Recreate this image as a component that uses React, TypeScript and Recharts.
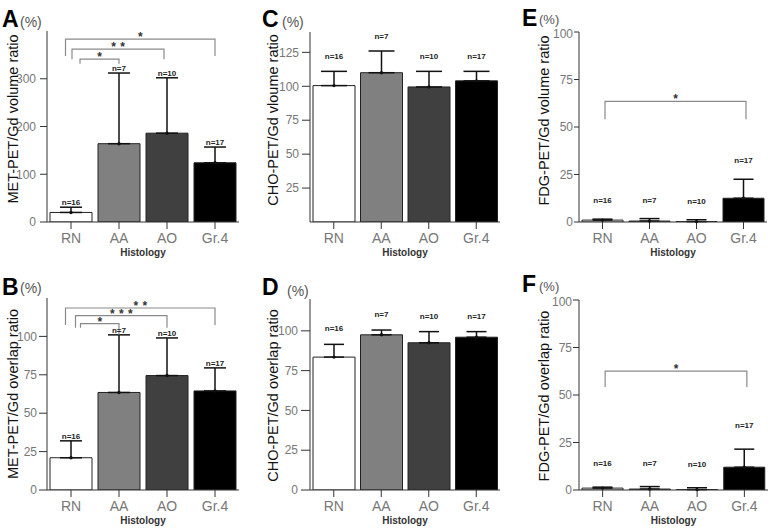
import React from 'react';
import { BarChart, Bar, XAxis, YAxis, ErrorBar, Cell, LabelList, ReferenceLine } from 'recharts';

const groups = ['RN', 'AA', 'AO', 'Gr.4'];
const groupN = [16, 7, 10, 17];

// A: MET-PET / Gd volume
const metVolumeMean = [20, 164, 186, 124];
const metVolumeErr = [11, 148, 116, 33];
const metVolumeTicks = [0, 100, 200, 300];
// B: MET-PET / Gd overlap
const metOverlapMean = [21, 63.5, 74.5, 64.5];
const metOverlapErr = [11, 37.5, 24.5, 15];
const metOverlapTicks = [0, 25, 50, 75, 100];
// C: CHO-PET / Gd volume
const choVolumeMean = [100.5, 110, 99.5, 104];
const choVolumeErr = [10.5, 16, 11.5, 7];
const choVolumeTicks = [25, 50, 75, 100, 125];
// D: CHO-PET / Gd overlap
const choOverlapMean = [83.5, 97.5, 92.5, 96];
const choOverlapErr = [8, 3, 7, 3.5];
const choOverlapTicks = [0, 25, 50, 75, 100];
// E: FDG-PET / Gd volume
const fdgVolumeMean = [1, 0.5, 0.2, 12.5];
const fdgVolumeErr = [0.5, 1.3, 1, 10];
const fdgVolumeTicks = [0, 25, 50, 75, 100];
// F: FDG-PET / Gd overlap
const fdgOverlapMean = [1, 0.5, 0.2, 12];
const fdgOverlapErr = [0.5, 1.3, 1, 9.5];
const fdgOverlapTicks = [0, 25, 50, 75, 100];

const metVolumeBrackets = [
  { from: 'RN', to: 'AA', y: 341, stars: 1 },
  { from: 'RN', to: 'AO', y: 362, stars: 2 },
  { from: 'RN', to: 'Gr.4', y: 383, stars: 1 },
];
const metOverlapBrackets = [
  { from: 'RN', to: 'AA', y: 108.3, stars: 1 },
  { from: 'RN', to: 'AO', y: 113.5, stars: 3 },
  { from: 'RN', to: 'Gr.4', y: 118.5, stars: 2 },
];
const fdgVolumeBrackets = [{ from: 'RN', to: 'Gr.4', y: 63.5, stars: 1 }];
const fdgOverlapBrackets = [{ from: 'RN', to: 'Gr.4', y: 62.6, stars: 1 }];

const SANS = '"Liberation Sans", Arial, Helvetica, sans-serif';
const NARROW = '"Liberation Sans Narrow", "Arial Narrow", "Liberation Sans", Arial, sans-serif';
const GROUP_COLORS = ['#ffffff', '#808080', '#404040', '#000000'];
const Y_W = 44;
const PAD = 6;
const X_H = 30;

type Bracket = { from: string; to: string; y: number; stars: number };
type BracketStyle = { dxL: number; dxR: number; legL: number; legR: number };

interface PanelCfg {
  letter: string;
  yLabel: string;
  mean: number[];
  err: number[];
  max: number;
  ticks: number[];
  brackets: Bracket[];
  bracketStyle: BracketStyle[];
  plot: { x: number; y: number; w: number; h: number };
  tickSize: number;
  tickMargin: number;
  tickFont: string;
  cap: number;
  nOffset: number;
  letterPos: [number, number];
  pctPos: [number, number];
  yLabelPos: [number, number];
}

const panels: PanelCfg[] = [
  {
    letter: 'A', yLabel: 'MET-PET/Gd volume ratio',
    mean: metVolumeMean, err: metVolumeErr, max: 400, ticks: metVolumeTicks,
    brackets: metVolumeBrackets,
    bracketStyle: [
      { dxL: 9, dxR: 0, legL: 4.5, legR: 4.5 },
      { dxL: 1, dxR: -3, legL: 10, legR: 10 },
      { dxL: -5.5, dxR: 0, legL: 17, legR: 17 },
    ],
    plot: { x: 47, y: 31, w: 192, h: 191 },
    tickSize: 7, tickMargin: 4, tickFont: NARROW, cap: 11, nOffset: 2,
    letterPos: [2, 27], pctPos: [20, 27], yLabelPos: [17.5, 119],
  },
  {
    letter: 'B', yLabel: 'MET-PET/Gd overlap ratio',
    mean: metOverlapMean, err: metOverlapErr, max: 125, ticks: metOverlapTicks,
    brackets: metOverlapBrackets,
    bracketStyle: [
      { dxL: 9.5, dxR: 0, legL: 4, legR: 11 },
      { dxL: 4.5, dxR: 0, legL: 12, legR: 12 },
      { dxL: -5.5, dxR: 0, legL: 17, legR: 17 },
    ],
    plot: { x: 47, y: 298, w: 192, h: 192 },
    tickSize: 8, tickMargin: 2, tickFont: NARROW, cap: 11, nOffset: 1.5,
    letterPos: [2, 295], pctPos: [20, 293], yLabelPos: [18, 394],
  },
  {
    letter: 'C', yLabel: 'CHO-PET/Gd vloume ratio',
    mean: choVolumeMean, err: choVolumeErr, max: 140, ticks: choVolumeTicks,
    brackets: [], bracketStyle: [],
    plot: { x: 310, y: 32, w: 190, h: 190 },
    tickSize: 8, tickMargin: 3, tickFont: NARROW, cap: 13, nOffset: 12,
    letterPos: [262, 27], pctPos: [282, 27], yLabelPos: [278, 120],
  },
  {
    letter: 'D', yLabel: 'CHO-PET/Gd overlap ratio',
    mean: choOverlapMean, err: choOverlapErr, max: 120, ticks: choOverlapTicks,
    brackets: [], bracketStyle: [],
    plot: { x: 310, y: 299, w: 190, h: 191 },
    tickSize: 9, tickMargin: 3, tickFont: NARROW, cap: 10, nOffset: 13,
    letterPos: [262, 295], pctPos: [287, 296], yLabelPos: [278, 395.5],
  },
  {
    letter: 'E', yLabel: 'FDG-PET/Gd volume ratio',
    mean: fdgVolumeMean, err: fdgVolumeErr, max: 100, ticks: fdgVolumeTicks,
    brackets: fdgVolumeBrackets,
    bracketStyle: [{ dxL: 2.5, dxR: 2.5, legL: 18, legR: 18 }],
    plot: { x: 579, y: 32, w: 188, h: 190 },
    tickSize: 5, tickMargin: 1, tickFont: SANS, cap: 10, nOffset: 16,
    letterPos: [522, 26], pctPos: [539, 24], yLabelPos: [549, 120.5],
  },
  {
    letter: 'F', yLabel: 'FDG-PET/Gd overlap ratio',
    mean: fdgOverlapMean, err: fdgOverlapErr, max: 100, ticks: fdgOverlapTicks,
    brackets: fdgOverlapBrackets,
    bracketStyle: [{ dxL: 2.5, dxR: 2.5, legL: 16, legR: 16 }],
    plot: { x: 579, y: 300, w: 189, h: 190 },
    tickSize: 6, tickMargin: 1, tickFont: SANS, cap: 10, nOffset: 21,
    letterPos: [522, 292], pctPos: [539, 291], yLabelPos: [549, 396],
  },
];

const MeanDot = (p: any) => {
  const vb = p.viewBox || p;
  const x = (vb.x ?? 0) + (vb.width ?? 0) / 2;
  const y = Math.min(vb.y, vb.y + (vb.height ?? 0));
  return <circle cx={x} cy={y} r={1.7} fill="#111" />;
};

const nLabel = (offset: number) => (p: any) => {
  const vb = p.viewBox || p;
  const x = (vb.x ?? 0) + (vb.width ?? 0) / 2;
  const y = Math.min(vb.y, vb.y + (vb.height ?? 0)) - offset;
  return (
    <text x={x} y={y} textAnchor="middle" fontSize={8} fontWeight="bold" fill="#222" fontFamily={SANS}>
      {p.value}
    </text>
  );
};

const bracketShape = (stars: number, st: BracketStyle) => (p: any) => {
  const xl = p.x1 + st.dxL;
  const xr = p.x2 + st.dxR;
  const y = p.y1;
  const cx = (xl + xr) / 2;
  const starXs = Array.from({ length: stars }, (_, i) => cx + (i - (stars - 1) / 2) * 9);
  return (
    <g>
      <path d={`M${xl},${y + st.legL}V${y}H${xr}V${y + st.legR}`} fill="none" stroke="#8a8a8a" strokeWidth={1.2} />
      {starXs.map((sx, i) => (
        <text key={i} x={sx} y={y + 2} textAnchor="middle" fontSize={12} fontWeight="bold" fill="#333" fontFamily={SANS}>
          *
        </text>
      ))}
    </g>
  );
};

function Panel({ cfg }: { cfg: PanelCfg }) {
  const data = groups.map((g, i) => ({
    name: g,
    mean: cfg.mean[i],
    errUp: cfg.err[i],
    errRange: [0, cfg.err[i]],
    n: `n=${groupN[i]}`,
  }));
  const width = Y_W + cfg.plot.w + PAD;
  const height = PAD + cfg.plot.h + X_H;
  return (
    <div style={{ position: 'absolute', left: cfg.plot.x - Y_W, top: cfg.plot.y - PAD }}>
      <BarChart
        width={width}
        height={height}
        data={data}
        margin={{ top: PAD, right: PAD, left: 0, bottom: 0 }}
        barCategoryGap={3}
      >
        <XAxis
          dataKey="name"
          height={X_H}
          interval={0}
          tickSize={7}
          tickMargin={4}
          axisLine={{ stroke: '#333' }}
          tickLine={{ stroke: '#333' }}
          tick={{ fill: '#777', fontSize: 14, fontFamily: NARROW }}
        />
        <XAxis
          xAxisId="top"
          orientation="top"
          dataKey="name"
          height={0}
          tick={false}
          tickLine={false}
          axisLine={{ stroke: '#999' }}
        />
        <YAxis
          type="number"
          domain={[0, cfg.max]}
          ticks={cfg.ticks}
          allowDataOverflow
          width={Y_W}
          tickSize={cfg.tickSize}
          tickMargin={cfg.tickMargin}
          axisLine={{ stroke: '#333' }}
          tickLine={{ stroke: '#333' }}
          tick={{ fill: '#777', fontSize: 12, fontFamily: cfg.tickFont }}
        />
        <YAxis
          yAxisId="right"
          orientation="right"
          type="number"
          domain={[0, cfg.max]}
          width={0}
          tick={false}
          tickLine={false}
          axisLine={{ stroke: '#999' }}
        />
        <Bar dataKey="mean" stackId="s" stroke="#222" strokeWidth={1} isAnimationActive={false}>
          {data.map((d, i) => (
            <Cell key={d.name} fill={GROUP_COLORS[i]} />
          ))}
          <ErrorBar dataKey="errRange" direction="y" width={cfg.cap} stroke="#111" strokeWidth={1.5} isAnimationActive={false} />
          <LabelList dataKey="mean" content={MeanDot} />
        </Bar>
        <Bar dataKey="errUp" stackId="s" fill="none" stroke="none" isAnimationActive={false}>
          <LabelList dataKey="n" content={nLabel(cfg.nOffset)} />
        </Bar>
        {cfg.brackets.map((b, i) => (
          <ReferenceLine
            key={i}
            segment={[{ x: b.from, y: b.y }, { x: b.to, y: b.y }]}
            ifOverflow="visible"
            shape={bracketShape(b.stars, cfg.bracketStyle[i])}
          />
        ))}
      </BarChart>
    </div>
  );
}

export default function App() {
  return (
    <div style={{ position: 'absolute', left: 0, top: 0, width: 778, height: 532, background: '#fff', overflow: 'hidden' }}>
      {panels.map((p) => (
        <Panel key={p.letter} cfg={p} />
      ))}
      <svg width={778} height={532} style={{ position: 'absolute', left: 0, top: 0, pointerEvents: 'none' }} fontFamily={SANS}>
        {panels.map((p) => (
          <g key={p.letter}>
            <text x={p.letterPos[0]} y={p.letterPos[1]} fontSize={23} fontWeight="bold" fill="#000">
              {p.letter}
            </text>
            <text x={p.pctPos[0]} y={p.pctPos[1]} fontSize={p.letter === 'E' || p.letter === 'F' ? 13 : 14} fill="#555">
              (%)
            </text>
            <text
              transform={`translate(${p.yLabelPos[0]},${p.yLabelPos[1]}) rotate(-90)`}
              textAnchor="middle"
              fontSize={14.5}
              fill="#111"
            >
              {p.yLabel}
            </text>
            <text
              x={p.plot.x + p.plot.w / 2}
              y={p.plot.y + p.plot.h + 33.5}
              textAnchor="middle"
              fontSize={10}
              fontWeight="bold"
              fill="#333"
            >
              Histology
            </text>
          </g>
        ))}
      </svg>
    </div>
  );
}
